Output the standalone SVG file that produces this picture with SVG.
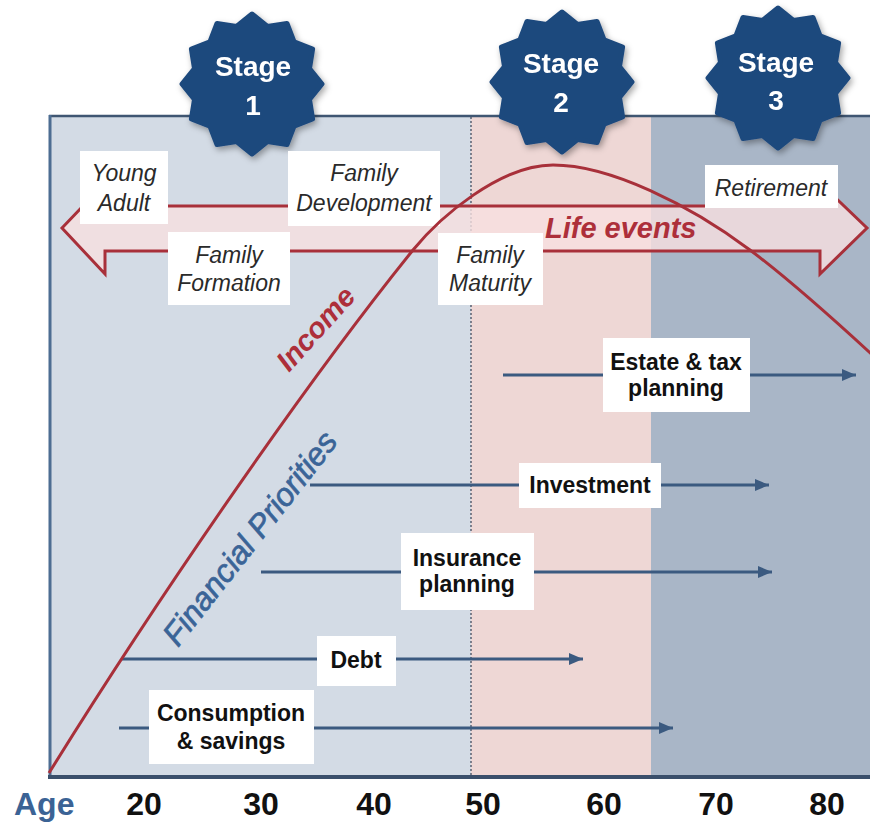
<svg xmlns="http://www.w3.org/2000/svg" xmlns:xlink="http://www.w3.org/1999/xlink" width="870" height="824" viewBox="0 0 870 824">
<defs>
<style>
text{font-family:"Liberation Sans",Arial,sans-serif}
.ev{font-style:italic;font-size:23px;fill:#2a2a2a;text-anchor:middle}
.fp{font-weight:bold;font-size:23px;fill:#111;text-anchor:middle}
.stage{font-weight:bold;font-size:28px;fill:#fff;text-anchor:middle}
.age{font-weight:bold;font-size:32px;fill:#111;text-anchor:middle}
.box{fill:#fff}
.flow{stroke:#3b5a80;stroke-width:3;fill:none;marker-end:url(#ah)}
.seal{fill:#1f497d;stroke:#1f497d;stroke-width:5;stroke-linejoin:round}
</style>
<marker id="ah" markerUnits="userSpaceOnUse" markerWidth="14" markerHeight="12" refX="14" refY="6" orient="auto">
<path d="M0,0 L14,6 L0,12 Z" fill="#3b5a80"/>
</marker>
<filter id="sh" x="-20%" y="-20%" width="140%" height="140%">
<feDropShadow dx="2" dy="3" stdDeviation="3" flood-color="#000" flood-opacity="0.35"/>
</filter>
<polygon id="sealShape" points="0,-70 15.5,-57.5 35,-60.6 42.1,-42.1 60.6,-35 57.5,-15.5 70,0 57.5,15.5 60.6,35 42.1,42.1 35,60.6 15.5,57.5 0,70 -15.5,57.5 -35,60.6 -42.1,42.1 -60.6,35 -57.5,15.5 -70,0 -57.5,-15.5 -60.6,-35 -42.1,-42.1 -35,-60.6 -15.5,-57.5"/>
</defs>

<rect width="870" height="824" fill="#fff"/>

<g id="plot-area">
<rect x="49" y="115" width="422" height="662" fill="#d3dbe5"/>
<rect x="471" y="115" width="180" height="662" fill="#eed7d5"/>
<rect x="651" y="115" width="219" height="662" fill="#a9b6c7"/>
<line x1="471" y1="117" x2="471" y2="776" stroke="#5a6272" stroke-width="1.5" stroke-dasharray="2,2"/>
<line x1="49" y1="116" x2="870" y2="116" stroke="#3f5672" stroke-width="2.5"/>
<line x1="50" y1="115" x2="50" y2="778" stroke="#4d6d92" stroke-width="3"/>
<line x1="48" y1="777" x2="870" y2="777" stroke="#3a4f6b" stroke-width="4"/>
</g>

<g id="stage-1" filter="url(#sh)">
<use xlink:href="#sealShape" class="seal" transform="translate(252,84)"/>
<text class="stage" x="253" y="76">Stage</text>
<text class="stage" x="253" y="115">1</text>
</g>
<g id="stage-2" filter="url(#sh)">
<use xlink:href="#sealShape" class="seal" transform="translate(562,82)"/>
<text class="stage" x="561" y="73">Stage</text>
<text class="stage" x="561" y="112">2</text>
</g>
<g id="stage-3" filter="url(#sh)">
<use xlink:href="#sealShape" class="seal" transform="translate(778,78)"/>
<text class="stage" x="776" y="72">Stage</text>
<text class="stage" x="776" y="110">3</text>
</g>

<g id="life-events">
<path d="M62,228 L105,183 L105,206 L820,206 L820,183 L867,228 L820,274 L820,251 L105,251 L105,274 Z" fill="#f7e0e0" fill-opacity="0.8" stroke="#a8303a" stroke-width="3" stroke-linejoin="miter"/>
<text x="545" y="238" font-size="29" font-weight="bold" font-style="italic" fill="#ad2f3a">Life events</text>
</g>

<g id="young-adult">
<rect class="box" x="80" y="151" width="88" height="73"/>
<text class="ev" x="124" y="181">Young</text>
<text class="ev" x="124" y="211">Adult</text>
</g>
<g id="family-development">
<rect class="box" x="288" y="151" width="152" height="75"/>
<text class="ev" x="364" y="181">Family</text>
<text class="ev" x="364" y="211">Development</text>
</g>
<g id="family-formation">
<rect class="box" x="168" y="232" width="122" height="73"/>
<text class="ev" x="229" y="263">Family</text>
<text class="ev" x="229" y="291">Formation</text>
</g>
<g id="family-maturity">
<rect class="box" x="438" y="233" width="105" height="72"/>
<text class="ev" x="490" y="263">Family</text>
<text class="ev" x="490" y="291">Maturity</text>
</g>
<g id="retirement">
<rect class="box" x="705" y="165" width="133" height="43"/>
<text class="ev" x="771" y="196">Retirement</text>
</g>

<g id="connectors">
<line class="flow" x1="503" y1="375" x2="856" y2="375"/>
<line class="flow" x1="310" y1="485" x2="769" y2="485"/>
<line class="flow" x1="261" y1="572" x2="772" y2="572"/>
<line class="flow" x1="122" y1="659" x2="583" y2="659"/>
<line class="flow" x1="119" y1="728" x2="673" y2="728"/>
</g>

<g id="estate-tax">
<rect class="box" x="603" y="338" width="147" height="74"/>
<text class="fp" x="676" y="370">Estate &amp; tax</text>
<text class="fp" x="676" y="396">planning</text>
</g>
<g id="investment">
<rect class="box" x="519" y="463" width="142" height="45"/>
<text class="fp" x="590" y="493">Investment</text>
</g>
<g id="insurance">
<rect class="box" x="401" y="533" width="133" height="77"/>
<text class="fp" x="467" y="566">Insurance</text>
<text class="fp" x="467" y="592">planning</text>
</g>
<g id="debt">
<rect class="box" x="317" y="636" width="79" height="50"/>
<text class="fp" x="356" y="668">Debt</text>
</g>
<g id="consumption">
<rect class="box" x="149" y="690" width="165" height="74"/>
<text class="fp" x="231" y="721">Consumption</text>
<text class="fp" x="231" y="749">&amp; savings</text>
</g>

<g id="income">
<path d="M49,773 C150,610 300,390 413,250 C440,217 500,165 553,165 C610,165 690,205 750,250 C790,280 840,325 880,362" fill="none" stroke="#a8303a" stroke-width="3"/>
<text x="289" y="373" font-size="29" font-weight="bold" font-style="italic" fill="#ad2f3a" transform="rotate(-48 289 373)">Income</text>
</g>

<g id="financial-priorities">
<text x="178" y="648" font-size="32" font-style="italic" fill="#3a6497" stroke="#3a6497" stroke-width="0.7" transform="rotate(-52 178 648)">Financial Priorities</text>
</g>

<g id="age-axis">
<text x="14" y="815" font-size="32" font-weight="bold" fill="#3b6395">Age</text>
<text class="age" x="144" y="815">20</text>
<text class="age" x="261" y="815">30</text>
<text class="age" x="374" y="815">40</text>
<text class="age" x="483" y="815">50</text>
<text class="age" x="604" y="815">60</text>
<text class="age" x="716" y="815">70</text>
<text class="age" x="827" y="815">80</text>
</g>
</svg>
